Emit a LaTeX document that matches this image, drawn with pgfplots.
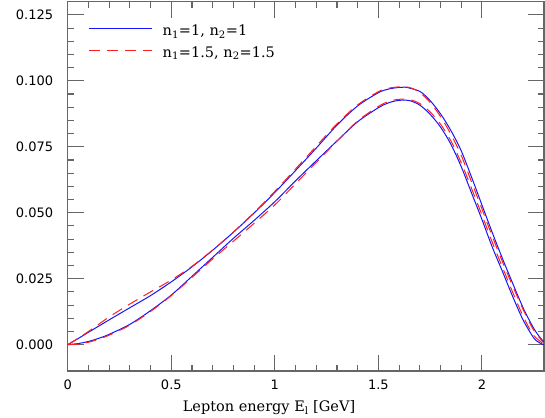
\documentclass[border=0pt]{standalone}
\usepackage{pgfplots}
\pgfplotsset{compat=1.18}
\usepackage{pgfplotstable}
\usepackage{fontspec}
\setmainfont{DejaVu Serif}
\newfontfamily\ticksans{DejaVu Sans}
\definecolor{cblue}{RGB}{20,20,255}
\definecolor{cred}{RGB}{255,30,30}

\pgfplotstableread{
x y
0.00 0.0000
0.05 0.0023
0.10 0.0047
0.20 0.0094
0.30 0.0140
0.40 0.0186
0.50 0.0238
0.60 0.0295
0.70 0.0358
0.80 0.0426
0.90 0.0499
1.00 0.0577
1.10 0.0660
1.20 0.0745
1.30 0.0832
1.40 0.0905
1.50 0.0955
1.55 0.0969
1.60 0.0975
1.63 0.0976
1.70 0.0960
1.75 0.0925
1.80 0.0875
1.85 0.0812
1.90 0.0735
1.95 0.0635
2.00 0.0530
2.05 0.0425
2.10 0.0325
2.15 0.0230
2.20 0.0138
2.25 0.0062
2.28 0.0028
2.30 0.0010
}\blueupper

\pgfplotstableread{
x y
0.00 0.0000
0.05 0.0004
0.10 0.0012
0.15 0.0024
0.20 0.0039
0.30 0.0077
0.40 0.0129
0.50 0.0188
0.60 0.0259
0.70 0.0331
0.80 0.0403
0.90 0.0471
1.00 0.0542
1.10 0.0621
1.20 0.0697
1.30 0.0772
1.40 0.0845
1.50 0.0898
1.55 0.0917
1.60 0.0926
1.65 0.0925
1.70 0.0908
1.75 0.0873
1.80 0.0825
1.85 0.0760
1.90 0.0675
1.95 0.0575
2.00 0.0475
2.05 0.0370
2.10 0.0276
2.15 0.0180
2.20 0.0092
2.25 0.0026
2.28 0.0006
2.30 0.0000
}\bluelower

\pgfplotstableread{
x y
0.00 0.0000
0.05 0.0024
0.10 0.0050
0.20 0.0105
0.30 0.0154
0.40 0.0200
0.50 0.0245
0.60 0.0297
0.70 0.0359
0.80 0.0427
0.90 0.0501
1.00 0.0581
1.10 0.0666
1.20 0.0752
1.30 0.0837
1.40 0.0909
1.50 0.0959
1.55 0.0972
1.60 0.0977
1.65 0.0975
1.70 0.0956
1.75 0.0918
1.80 0.0865
1.85 0.0798
1.90 0.0718
1.95 0.0617
2.00 0.0515
2.05 0.0411
2.10 0.0313
2.15 0.0220
2.20 0.0132
2.25 0.0055
2.30 0.0005
}\redupper

\pgfplotstableread{
x y
0.00 0.0000
0.05 0.0002
0.10 0.0009
0.15 0.0021
0.20 0.0036
0.30 0.0074
0.40 0.0126
0.50 0.0186
0.60 0.0255
0.70 0.0325
0.80 0.0392
0.90 0.0460
1.00 0.0530
1.10 0.0610
1.20 0.0691
1.30 0.0771
1.40 0.0848
1.50 0.0903
1.55 0.0922
1.60 0.0930
1.65 0.0929
1.70 0.0914
1.75 0.0882
1.80 0.0836
1.85 0.0773
1.90 0.0690
1.95 0.0592
2.00 0.0492
2.05 0.0388
2.10 0.0292
2.15 0.0196
2.20 0.0106
2.25 0.0035
2.30 0.0002
}\redlower

\begin{document}
\begin{tikzpicture}
\path[use as bounding box] (-67.8pt,-46pt) rectangle (477.2pt,371pt);
\begin{axis}[
  at={(0pt,0pt)}, anchor=south west,
  width=476.2pt, height=369.3pt, scale only axis,
  xmin=0, xmax=2.3, ymin=-0.01, ymax=0.13,
  xtick={0,0.5,1,1.5,2}, xticklabels={0,0.5,1,1.5,2},
  ytick={0,0.025,0.05,0.075,0.1,0.125},
  yticklabels={0.000,0.025,0.050,0.075,0.100,0.125},
  minor x tick num=4, minor y tick num=4,
  tick align=inside, tick pos=both,
  major tick length=16pt, minor tick length=6pt,
  tick style={line width=1.1pt, black!60},
  axis line style={line width=1.3pt, black!60},
  ticklabel style={font=\ticksans\fontsize{13}{15}\selectfont, inner sep=0pt},
  xticklabel style={anchor=north, yshift=-9pt},
  yticklabel style={anchor=east, xshift=-14.5pt},
  xlabel={Lepton energy E\textsubscript{l} [GeV]},
  xlabel style={at={(axis description cs:0.4225,0)}, anchor=base, yshift=-40.7pt, font=\fontsize{14.5}{17}\selectfont},
  legend cell align=left,
  legend image code/.code={\draw[#1] (0pt,3.3pt) -- (63.4pt,3.3pt);},
  legend style={draw=none, fill=none, at={(rel axis cs:0,1)}, anchor=north west,
    xshift=20.5pt, yshift=-23pt, inner sep=0pt, outer sep=0pt, row sep=6.5pt,
    font=\fontsize{14.5}{17}\selectfont,
    nodes={inner sep=0pt, text height=11pt, text depth=4pt},
    /tikz/column sep=10pt},
]
\addlegendimage{color=cblue, line width=1pt}
\addlegendentry{n\textsubscript{1}=1, n\textsubscript{2}=1}
\addlegendimage{color=cred, line width=1pt, dash pattern=on 11pt off 7pt}
\addlegendentry{n\textsubscript{1}=1.5, n\textsubscript{2}=1.5}
\addplot[color=cblue, line width=1pt, smooth, forget plot] table[x=x,y=y] {\blueupper};
\addplot[color=cblue, line width=1pt, smooth, forget plot] table[x=x,y=y] {\bluelower};
\addplot[color=cred, line width=1pt, smooth, dash pattern=on 11pt off 7pt, forget plot] table[x=x,y=y] {\redupper};
\addplot[color=cred, line width=1pt, smooth, dash pattern=on 11pt off 7pt, forget plot] table[x=x,y=y] {\redlower};
\end{axis}
\end{tikzpicture}
\end{document}
